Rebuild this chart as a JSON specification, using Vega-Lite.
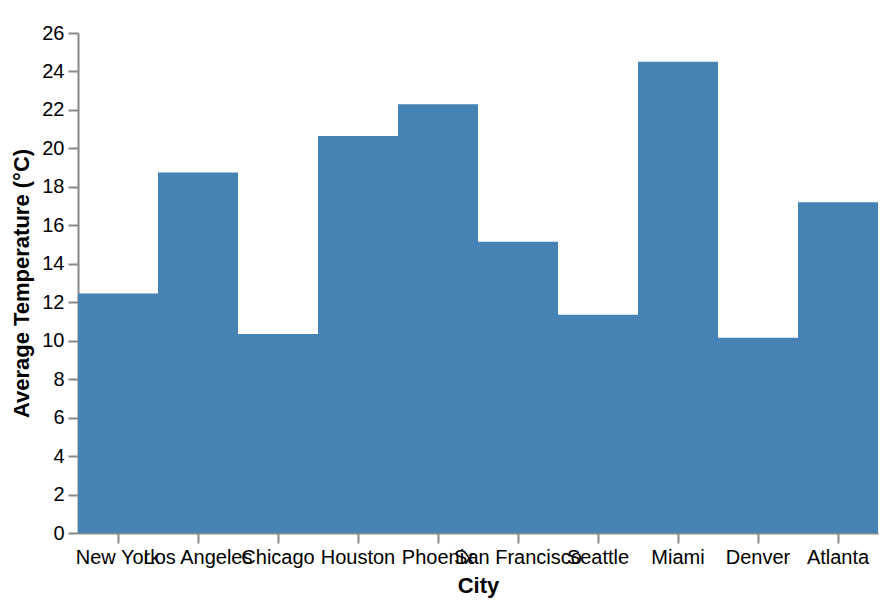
{
  "$schema": "https://vega.github.io/schema/vega-lite/v6.json",
  "width": 800,
  "height": 500,
  "padding": {"left": 10, "top": 23, "right": 10, "bottom": 5},
  "config": {
    "view": {"stroke": null},
    "axis": {
      "labelFontSize": 20, "titleFontSize": 22, "labelFont": "Liberation Sans", "titleFont": "Liberation Sans",
      "tickSize": 10, "tickWidth": 2, "domainWidth": 2, "labelPadding": 4, "titlePadding": 8
    }
  },
  "data": {"values": [
    {"City": "New York", "Temp": 12.45},
    {"City": "Los Angeles", "Temp": 18.75},
    {"City": "Chicago", "Temp": 10.35},
    {"City": "Houston", "Temp": 20.65},
    {"City": "Phoenix", "Temp": 22.3},
    {"City": "San Francisco", "Temp": 15.15},
    {"City": "Seattle", "Temp": 11.35},
    {"City": "Miami", "Temp": 24.5},
    {"City": "Denver", "Temp": 10.15},
    {"City": "Atlanta", "Temp": 17.2}
  ]},
  "mark": {"type": "bar", "color": "#4682b4"},
  "encoding": {
    "x": {"field": "City", "type": "nominal", "sort": null, "title": "City",
          "scale": {"paddingInner": 0, "paddingOuter": 0},
          "axis": {"labelAngle": 0}},
    "y": {"field": "Temp", "type": "quantitative", "title": "Average Temperature (°C)",
          "scale": {"domain": [0, 26]},
          "axis": {"grid": false}}
  }
}
